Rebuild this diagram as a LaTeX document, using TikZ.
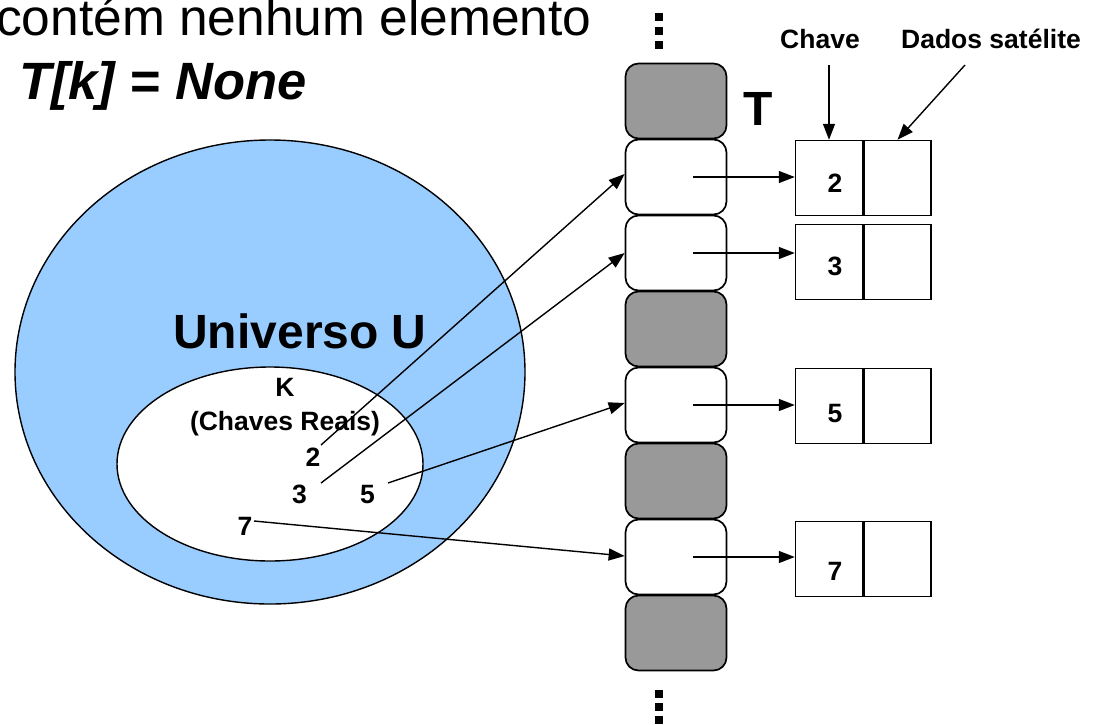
\documentclass[tikz,border=0pt]{standalone}
\usepackage{fontspec}
\setmainfont{Liberation Sans}
\usetikzlibrary{arrows.meta,shapes.geometric}
\definecolor{ublue}{HTML}{99CCFF}
\definecolor{slotgray}{HTML}{999999}
\begin{document}
\begin{tikzpicture}[x=1pt,y=-1pt,
  slotbox/.style={draw, line width=1.7pt, rounded corners=13pt, minimum width=101pt, minimum height=75pt, inner sep=0pt},
  slotused/.style={slotbox, fill=white},
  slotfree/.style={slotbox, fill=slotgray},
  cell/.style={draw, line width=1.5pt, minimum width=67pt, minimum height=75pt, inner sep=0pt},
  arr/.style={line width=1.4pt, -{Triangle[length=16pt,width=12pt]}},
  lbl/.style={font=\bfseries\fontsize{26.5}{30}\selectfont, inner sep=0pt, anchor=base},
  dotsq/.style={fill=black}
]
\useasboundingbox (0,0) rectangle (1097,724);

% heading
\node[anchor=base west, inner sep=0pt, font=\fontsize{51.5}{60}\selectfont] (h1) at (-4,35) {contém nenhum elemento};
\node[anchor=base west, inner sep=0pt, font=\bfseries\itshape\fontsize{52.5}{60}\selectfont] (h2) at (19,99) {T[k] = None};

% universe
\node[ellipse, draw, line width=1.4pt, fill=ublue, minimum width=510pt, minimum height=464pt, inner sep=0pt] (U) at (270,372) {};
\node[anchor=base, inner sep=0pt, font=\bfseries\fontsize{48}{56}\selectfont] (ulab) at (300,348) {Universo U};
\node[ellipse, draw, line width=1.4pt, fill=white, minimum width=306pt, minimum height=194pt, inner sep=0pt] (K) at (270,464) {};
\node[lbl] (klab) at (285,396) {K};
\node[lbl] (kdesc) at (285,430) {(Chaves Reais)};
\node[lbl] (n2) at (313,466) {2};
\node[lbl] (n3) at (299.5,503) {3};
\node[lbl] (n5) at (367.5,503) {5};
\node[lbl] (n7) at (245,535) {7};

% table T
\node[slotfree] (s1) at (676,101) {};
\node[slotused] (s2) at (676,177) {};
\node[slotused] (s3) at (676,253) {};
\node[slotfree] (s4) at (676,329) {};
\node[slotused] (s5) at (676,405) {};
\node[slotfree] (s6) at (676,481) {};
\node[slotused] (s7) at (676,557) {};
\node[slotfree] (s8) at (676,633) {};
\node[anchor=base, inner sep=0pt, font=\bfseries\fontsize{48}{56}\selectfont] (tlab) at (758.5,125) {T};

% dots
\fill[dotsq] (655,13) rectangle (663,21);
\fill[dotsq] (655,27) rectangle (663,35);
\fill[dotsq] (655,41) rectangle (663,49);
\fill[dotsq] (655,690) rectangle (663,698);
\fill[dotsq] (655,703) rectangle (663,711);
\fill[dotsq] (655,716) rectangle (663,724);

% records
\node[cell] (k1) at (829,178) {};
\node[cell, anchor=west] (d1) at (k1.east) {};
\node[cell] (k2) at (829,262) {};
\node[cell, anchor=west] (d2) at (k2.east) {};
\node[cell] (k3) at (829,406) {};
\node[cell, anchor=west] (d3) at (k3.east) {};
\node[cell] (k4) at (829,559) {};
\node[cell, anchor=west] (d4) at (k4.east) {};
\node[lbl] (r2) at (835,192) {2};
\node[lbl] (r3) at (835,275) {3};
\node[lbl] (r5) at (835,422) {5};
\node[lbl] (r7) at (835,580) {7};

% headers
\node[lbl] (chave) at (820,48) {Chave};
\node[lbl] (dados) at (991,48) {Dados satélite};
\coordinate (chs) at (829,65);
\coordinate (das) at (965,65);
\draw[arr] (chs) -- (k1.north);
\draw[arr] (das) -- (d1.north);

% slot to record arrows
\draw[arr] ([xshift=17pt]s2.center) -- (s2.center -| k1.west);
\draw[arr] ([xshift=17pt]s3.center) -- (s3.center -| k2.west);
\draw[arr] ([xshift=17pt]s5.center) -- (s5.center -| k3.west);
\draw[arr] ([xshift=17pt]s7.center) -- (s7.center -| k4.west);

% key to slot arrows
\coordinate (c2) at (321,445);
\coordinate (c3) at (321,483);
\coordinate (c5) at (388,483);
\coordinate (c7) at (254,521);
\draw[arr] (c2) -- ([yshift=3pt]s2.west);
\draw[arr] (c3) -- (s3.west);
\draw[arr] (c5) -- ([yshift=2pt]s5.west);
\draw[arr] (c7) -- ([yshift=1pt]s7.west);
\end{tikzpicture}
\end{document}
